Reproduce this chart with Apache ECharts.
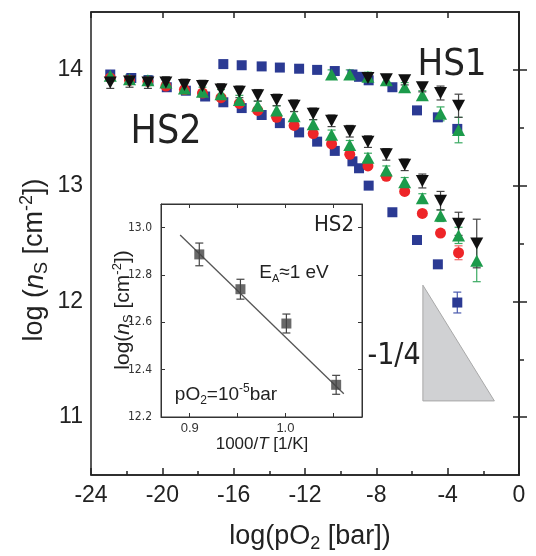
<!DOCTYPE html>
<html>
<head>
<meta charset="utf-8">
<script src="https://cdn.jsdelivr.net/npm/echarts@6/dist/echarts.min.js"></script>
<style>html,body{margin:0;padding:0;background:#fff}#c{width:536px;height:556px}</style>
</head>
<body>
<div id="c"></div>
<script>
// ---------- data ----------
const xTicks = [-24, -20, -16, -12, -8, -4, 0];
const yTicks = [11, 12, 13, 14];
const yMinorTicks = [11.5, 12.5, 13.5];

// blue squares (x positions shared by both branches)
const hs2BlueX = [-22.92, -21.74, -20.78, -19.75, -18.68, -17.60, -16.58, -15.55, -14.43, -13.41, -12.33, -11.32, -10.33, -9.34, -8.97, -8.43, -7.10, -5.72, -4.55, -3.46];
const hs2Blue  = [13.96, 13.93, 13.91, 13.85, 13.82, 13.77, 13.72, 13.67, 13.61, 13.54, 13.46, 13.38, 13.30, 13.21, 13.15, 13.00, 12.77, 12.53, 12.32, 11.99];
const hs2BlueErr = [0,0,0,0,0,0,0,0,0,0,0,0,0,0,0,0,0,0,0,0.09];
const hs1BlueX = [-16.58, -15.55, -14.43, -13.41, -12.33, -11.32, -10.33, -9.34, -8.97, -8.43, -7.10, -5.72, -4.55, -3.46];
const hs1Blue  = [14.05, 14.04, 14.03, 14.02, 14.01, 14.00, 13.99, 13.96, 13.94, 13.91, 13.85, 13.65, 13.59, 13.49];

// triangles / circles x positions
const hs2TriX = [-22.92, -21.84, -20.81, -19.80, -18.76, -17.75, -16.71, -15.68, -14.65, -13.59, -12.61, -11.54, -10.51, -9.49, -8.47, -7.44, -6.41, -5.42, -4.40, -3.39, -2.37];
const hs2Black = [13.89, 13.90, 13.89, 13.89, 13.87, 13.86, 13.83, 13.81, 13.78, 13.74, 13.69, 13.62, 13.56, 13.47, 13.38, 13.27, 13.18, 13.04, 12.87, 12.67, 12.50];
const hs2BlackErr = [0.05,0.05,0.05,0.05,0.05,0.05,0.05,0.05,0.05,0.05,0.05,0.05,0.05,0.05,0.05,0.05,0.05,0.06,0.08,0.10,0.21];
const hs2RedX = [-22.92, -21.84, -20.81, -19.80, -18.76, -17.75, -16.71, -15.68, -14.65, -13.59, -12.61, -11.54, -10.51, -9.49, -8.47, -7.44, -6.41, -5.42, -4.40, -3.39];
const hs2Red = [13.93, 13.91, 13.90, 13.86, 13.83, 13.80, 13.76, 13.71, 13.65, 13.59, 13.52, 13.45, 13.36, 13.27, 13.17, 13.08, 12.95, 12.76, 12.59, 12.42];
const hs2RedErr = [0,0,0,0,0,0,0,0,0,0,0,0,0,0,0,0,0,0,0,0.06];
const hs2Green = [13.95, 13.92, 13.91, 13.89, 13.84, 13.81, 13.79, 13.74, 13.69, 13.65, 13.60, 13.53, 13.44, 13.35, 13.24, 13.13, 13.03, 12.89, 12.74, 12.57, 12.35];
const hs2GreenErr = [0.04,0.04,0.04,0.04,0.04,0.04,0.04,0.04,0.04,0.04,0.04,0.04,0.04,0.04,0.04,0.04,0.04,0.04,0.05,0.07,0.18];

const hs1GreenX = [-10.51, -9.49, -8.47, -7.44, -6.41, -5.42, -4.40, -3.39];
const hs1Green  = [13.96, 13.96, 13.94, 13.91, 13.85, 13.78, 13.62, 13.48];
const hs1GreenErr = [0.04,0.04,0.04,0.04,0.04,0.04,0.06,0.11];
const hs1BlackX = [-8.47, -7.44, -6.41, -5.42, -4.40, -3.39];
const hs1Black  = [13.93, 13.92, 13.91, 13.85, 13.80, 13.69];
const hs1BlackErr = [0.04,0.04,0.04,0.04,0.06,0.10];

// slope triangle (-1/4)
const slopeX = [-5.39, -5.39, -1.38];
const slopeY = [12.14, 11.14, 11.14];

// inset (Arrhenius)
const insetX = [0.910, 0.953, 1.001, 1.053];
const insetY = [12.887, 12.740, 12.595, 12.336];
const insetErr = [0.048, 0.042, 0.040, 0.040];
const fitX = [0.890, 1.061];
const fitY = [12.969, 12.298];
const insetXLabels = [0.9, 1.0];
const insetXTicks = [0.9, 0.95, 1.0, 1.05];
const insetYTicks = [12.2, 12.4, 12.6, 12.8, 13.0];

// ---------- styles ----------
const SANS = "'Liberation Sans', Arial, sans-serif";
const NARROW = "'Liberation Sans Narrow', 'DejaVu Sans Condensed', 'Liberation Sans', sans-serif";
const BLUE = '#2b3a93', RED = '#ee2528', GREEN = '#1c9b4b', BLACK = '#111111';
const AX = '#222';

function pairs(xs, ys) { return xs.map((x, i) => [x, ys[i]]); }
function triples(xs, ys, es) { return xs.map((x, i) => [x, ys[i], es[i]]); }

function errSeries(xs, ys, es, color, xi, yi) {
  return {
    type: 'custom', xAxisIndex: xi, yAxisIndex: yi, z: 2,
    data: triples(xs, ys, es),
    encode: { x: 0, y: 1 },
    silent: true,
    renderItem: function (params, api) {
      const x = api.value(0), y = api.value(1), e = api.value(2);
      if (!e) return { type: 'group', children: [] };
      const p1 = api.coord([x, y + e]), p2 = api.coord([x, y - e]);
      const w = 4, st = { stroke: color, lineWidth: 1.2 };
      return { type: 'group', children: [
        { type: 'line', shape: { x1: p1[0], y1: p1[1], x2: p2[0], y2: p2[1] }, style: st },
        { type: 'line', shape: { x1: p1[0] - w, y1: p1[1], x2: p1[0] + w, y2: p1[1] }, style: st },
        { type: 'line', shape: { x1: p2[0] - w, y1: p2[1], x2: p2[0] + w, y2: p2[1] }, style: st }
      ]};
    }
  };
}

function scat(xs, ys, color, symbol, size, rotate) {
  return {
    type: 'scatter', xAxisIndex: 0, yAxisIndex: 0, z: 3,
    data: pairs(xs, ys), symbol: symbol, symbolSize: size, symbolRotate: rotate || 0,
    itemStyle: { color: color, opacity: 1 }, silent: true
  };
}

const chart = echarts.init(document.getElementById('c'), null, { renderer: 'canvas' });

const option = {
  animation: false,
  backgroundColor: '#fff',
  grid: [
    { left: 91, top: 12, width: 428, height: 463, show: true, borderColor: AX, borderWidth: 1.5, backgroundColor: 'transparent' },
    { left: 161, top: 204, width: 201, height: 213, show: true, borderColor: '#333', borderWidth: 1, backgroundColor: '#fff' }
  ],
  xAxis: [
    { type: 'value', gridIndex: 0, position: 'bottom', min: -24, max: 0, interval: 4,
      axisLine: { show: true, lineStyle: { color: AX, width: 1.5 } },
      axisTick: { inside: true, length: 7, lineStyle: { color: AX, width: 1.5 } },
      minorTick: { show: true, splitNumber: 2, length: 4, lineStyle: { color: AX, width: 1.5 } },
      axisLabel: { fontSize: 23, color: AX, margin: 9, fontFamily: SANS },
      splitLine: { show: false }, minorSplitLine: { show: false } },
    { type: 'value', gridIndex: 0, position: 'top', min: -24, max: 0, interval: 4,
      axisLine: { show: true, lineStyle: { color: AX, width: 1.5 } },
      axisTick: { inside: true, length: 6, lineStyle: { color: AX, width: 1.5 } },
      axisLabel: { show: false }, splitLine: { show: false } },
    { type: 'value', gridIndex: 1, position: 'bottom', min: 0.87, max: 1.08,
      axisLine: { show: true, lineStyle: { color: '#333', width: 1 } },
      axisTick: { inside: true, length: 4, customValues: insetXTicks, lineStyle: { color: '#333' } },
      axisLabel: { customValues: insetXLabels, formatter: v => v.toFixed(1), fontSize: 13, color: '#333', margin: 5, fontFamily: SANS },
      splitLine: { show: false } },
    { type: 'value', gridIndex: 1, position: 'top', min: 0.87, max: 1.08,
      axisLine: { show: true, lineStyle: { color: '#333', width: 1 } },
      axisTick: { inside: true, length: 4, customValues: insetXTicks, lineStyle: { color: '#333' } },
      axisLabel: { show: false }, splitLine: { show: false } }
  ],
  yAxis: [
    { type: 'value', gridIndex: 0, position: 'left', min: 10.5, max: 14.5,
      axisLine: { show: true, lineStyle: { color: AX, width: 1.5 } },
      axisTick: { inside: true, length: 8, customValues: yTicks, lineStyle: { color: AX, width: 1.5 } },
      axisLabel: { customValues: yTicks, fontSize: 23, color: AX, margin: 8, fontFamily: SANS },
      splitLine: { show: false } },
    { type: 'value', gridIndex: 0, position: 'left', min: 10.5, max: 14.5,
      axisLine: { show: false },
      axisTick: { inside: true, length: 5, customValues: yMinorTicks, lineStyle: { color: AX, width: 1.5 } },
      axisLabel: { show: false }, splitLine: { show: false } },
    { type: 'value', gridIndex: 0, position: 'right', min: 10.5, max: 14.5,
      axisLine: { show: true, lineStyle: { color: AX, width: 1.5 } },
      axisTick: { inside: true, length: 6, customValues: yTicks, lineStyle: { color: AX, width: 1.5 } },
      axisLabel: { show: false }, splitLine: { show: false } },
    { type: 'value', gridIndex: 1, position: 'left', min: 12.2, max: 13.1,
      axisLine: { show: true, lineStyle: { color: '#333', width: 1 } },
      axisTick: { inside: true, length: 4, customValues: insetYTicks, lineStyle: { color: '#333' } },
      axisLabel: { customValues: insetYTicks, formatter: v => v.toFixed(1), fontSize: 12, color: '#333', margin: 9, fontFamily: NARROW },
      splitLine: { show: false } },
    { type: 'value', gridIndex: 1, position: 'right', min: 12.2, max: 13.1,
      axisLine: { show: true, lineStyle: { color: '#333', width: 1 } },
      axisTick: { inside: true, length: 4, customValues: insetYTicks, lineStyle: { color: '#333' } },
      axisLabel: { show: false }, splitLine: { show: false } }
  ],
  series: [
    { type: 'custom', xAxisIndex: 0, yAxisIndex: 0, z: 1, silent: true,
      data: pairs(slopeX, slopeY), encode: { x: 0, y: 1 },
      renderItem: function (params, api) {
        if (params.dataIndex !== 0) return { type: 'group', children: [] };
        const pts = slopeX.map((x, i) => api.coord([x, slopeY[i]]));
        return { type: 'polygon', shape: { points: pts }, style: { fill: '#d0d1d3', stroke: '#a8a8a8', lineWidth: 1 } };
      } },
    errSeries(hs2BlueX, hs2Blue, hs2BlueErr, '#4a5aae', 0, 0),
    errSeries(hs2RedX, hs2Red, hs2RedErr, '#f06a6a', 0, 0),
    errSeries(hs2TriX, hs2Green, hs2GreenErr, '#3aaa62', 0, 0),
    errSeries(hs1GreenX, hs1Green, hs1GreenErr, '#3aaa62', 0, 0),
    errSeries(hs2TriX, hs2Black, hs2BlackErr, '#444', 0, 0),
    errSeries(hs1BlackX, hs1Black, hs1BlackErr, '#444', 0, 0),
    scat(hs2BlueX, hs2Blue, BLUE, 'rect', 10),
    scat(hs1BlueX, hs1Blue, BLUE, 'rect', 10),
    scat(hs2RedX, hs2Red, RED, 'circle', 11),
    scat(hs2TriX, hs2Green, GREEN, 'triangle', [13, 12]),
    scat(hs1GreenX, hs1Green, GREEN, 'triangle', [13, 12]),
    scat(hs2TriX, hs2Black, BLACK, 'triangle', [13, 12], 180),
    scat(hs1BlackX, hs1Black, BLACK, 'triangle', [13, 12], 180),
    // inset
    { type: 'line', xAxisIndex: 2, yAxisIndex: 3, data: pairs(fitX, fitY), symbol: 'none',
      lineStyle: { color: '#555', width: 1.3 }, z: 2, silent: true },
    errSeries(insetX, insetY, insetErr, '#444', 2, 3),
    { type: 'scatter', xAxisIndex: 2, yAxisIndex: 3, data: pairs(insetX, insetY), symbol: 'rect', symbolSize: 10,
      itemStyle: { color: '#444' }, z: 3, silent: true }
  ],
  graphic: [
    { type: 'text', x: 310, y: 537, z: 100, style: {
        text: '{a|log(pO}{s|2}{a| [bar])}', textAlign: 'center', textVerticalAlign: 'middle', fill: AX,
        rich: { a: { fontSize: 27, fontFamily: SANS, fill: AX }, s: { fontSize: 18, fontFamily: SANS, padding: [14, 0, 0, 0], fill: AX } } } },
    { type: 'text', x: 35, y: 260, rotation: Math.PI / 2, z: 100, style: {
        text: '{a|log (}{i|n}{s|S}{a| [cm}{p|-2}{a|])}', textAlign: 'center', textVerticalAlign: 'middle', fill: AX,
        rich: { a: { fontSize: 27, fontFamily: SANS, fill: AX }, i: { fontSize: 27, fontFamily: SANS, fontStyle: 'italic', fill: AX },
                s: { fontSize: 18, fontFamily: SANS, padding: [14, 0, 0, 0], fill: AX }, p: { fontSize: 18, fontFamily: SANS, padding: [0, 0, 16, 0], fill: AX } } } },
    { type: 'text', x: 166, y: 133, z: 100, style: { text: 'HS2', fontSize: 39, fontFamily: NARROW, fill: AX, textAlign: 'center', textVerticalAlign: 'middle' } },
    { type: 'text', x: 452, y: 65, z: 100, style: { text: 'HS1', fontSize: 38, fontFamily: NARROW, fill: AX, textAlign: 'center', textVerticalAlign: 'middle' } },
    { type: 'text', x: 394, y: 356, z: 100, style: { text: '-1/4', fontSize: 30, fontFamily: NARROW, fill: AX, textAlign: 'center', textVerticalAlign: 'middle' } },
    // inset texts
    { type: 'text', x: 334, y: 225, z: 100, style: { text: 'HS2', fontSize: 22, fontFamily: NARROW, fill: '#222', textAlign: 'center', textVerticalAlign: 'middle' } },
    { type: 'text', x: 294, y: 273, z: 100, style: {
        text: '{a|E}{s|A}{a|≈1 eV}', textAlign: 'center', textVerticalAlign: 'middle', fill: '#222',
        rich: { a: { fontSize: 19, fontFamily: SANS, fill: '#222' }, s: { fontSize: 11, fontFamily: SANS, padding: [11, 0, 0, 0], fill: '#222' } } } },
    { type: 'text', x: 226, y: 395, z: 100, style: {
        text: '{a|pO}{s|2}{a|=10}{p|-5}{a|bar}', textAlign: 'center', textVerticalAlign: 'middle', fill: '#222',
        rich: { a: { fontSize: 19, fontFamily: SANS, fill: '#222' }, s: { fontSize: 12, fontFamily: SANS, padding: [12, 0, 0, 0], fill: '#222' },
                p: { fontSize: 12, fontFamily: SANS, padding: [0, 0, 12, 0], fill: '#222' } } } },
    { type: 'text', x: 262, y: 444, z: 100, style: {
        text: '{a|1000/}{i|T}{a| [1/K]}', textAlign: 'center', textVerticalAlign: 'middle', fill: '#222',
        rich: { a: { fontSize: 17, fontFamily: SANS, fill: '#222' }, i: { fontSize: 17, fontFamily: SANS, fontStyle: 'italic', fill: '#222' } } } },
    { type: 'text', x: 123, y: 310, rotation: Math.PI / 2, z: 100, style: {
        text: '{a|log(}{i|n}{s|S}{a| [cm}{p|-2}{a|])}', textAlign: 'center', textVerticalAlign: 'middle', fill: '#222',
        rich: { a: { fontSize: 21, fontFamily: SANS, fill: '#222' }, i: { fontSize: 21, fontFamily: SANS, fontStyle: 'italic', fill: '#222' },
                s: { fontSize: 13, fontFamily: SANS, padding: [10, 0, 0, 0], fill: '#222' }, p: { fontSize: 13, fontFamily: SANS, padding: [0, 0, 12, 0], fill: '#222' } } } }
  ]
};
chart.setOption(option);
</script>
</body>
</html>
